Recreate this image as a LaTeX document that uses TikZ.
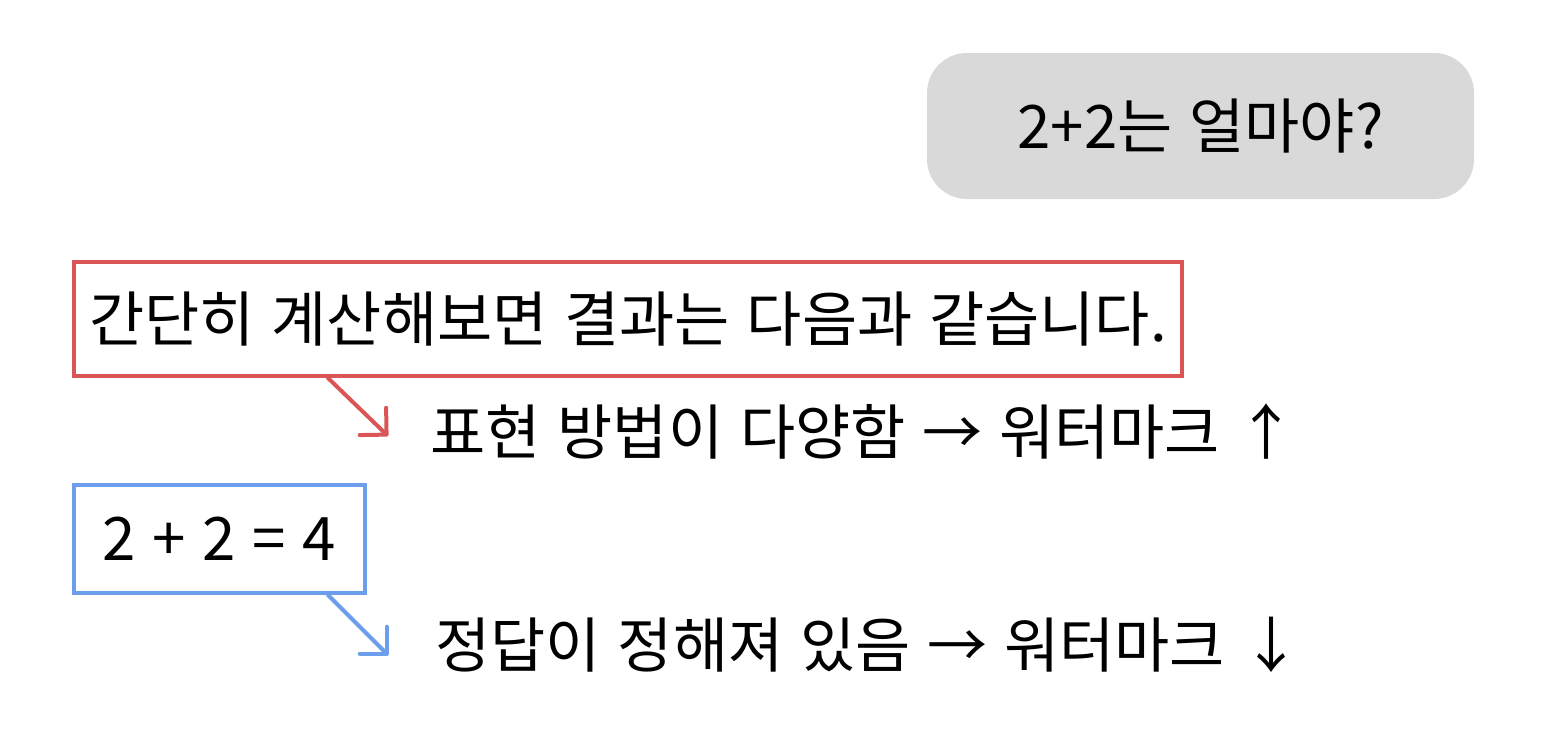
\documentclass[tikz,border=0pt]{standalone}
\usepackage{fontspec}
\setmainfont{Noto Sans CJK KR}[WordSpace=1.25]
\usepackage{tikz}
\usetikzlibrary{arrows.meta}
\usetikzlibrary{calc}
\usetikzlibrary{positioning}
\definecolor{redline}{RGB}{218,85,85}
\definecolor{blueline}{RGB}{109,158,235}
\definecolor{bubblegray}{RGB}{217,217,217}

\begin{document}
\begin{tikzpicture}[x=0.5pt,y=-0.5pt,font=\fontsize{30}{36}\selectfont,
	bubble/.style={fill=bubblegray,rounded corners=20pt,minimum width=273.5pt,minimum height=73pt,inner sep=0pt},
	redbox/.style={draw=redline,line width=2pt,minimum height=57pt,inner sep=0pt},
	bluebox/.style={draw=blueline,line width=2pt,minimum height=54pt,inner sep=0pt},
	note/.style={anchor=west,inner sep=0pt},
	pointer/.style={line width=2pt,line cap=round,-{Straight Barb[length=9.5pt,width=19pt,round]}}]

				\useasboundingbox (0,0) rectangle (1547,755);

				\node[bubble] (q) at (1200.5,126) {2+2는 얼마야?};
				\node[redbox,minimum width=554pt] (ans) at (628,319) {간단히 계산해보면 결과는 다음과 같습니다.};
				\node[bluebox,minimum width=145.5pt] (calc) at (219.5,539) {2 + 2 = 4};

				\coordinate (redfoot) at ($(ans.south west)+(256,0)$);
				\coordinate (redtip) at (388,436);
				\coordinate (bluefoot) at ($(calc.south west)+(256,0)$);
				\coordinate (bluetip) at (388,655);

				\node[note] (many) at (430,432) {표현 방법이 다양함 → 워터마크 ↑};
				\node[note] (fixed) at (435,645) {정답이 정해져 있음 → 워터마크 ↓};

				\path[pointer]
				(redfoot) edge[draw=redline] (redtip)
				(bluefoot) edge[draw=blueline] (bluetip);

\end{tikzpicture}
\end{document}
